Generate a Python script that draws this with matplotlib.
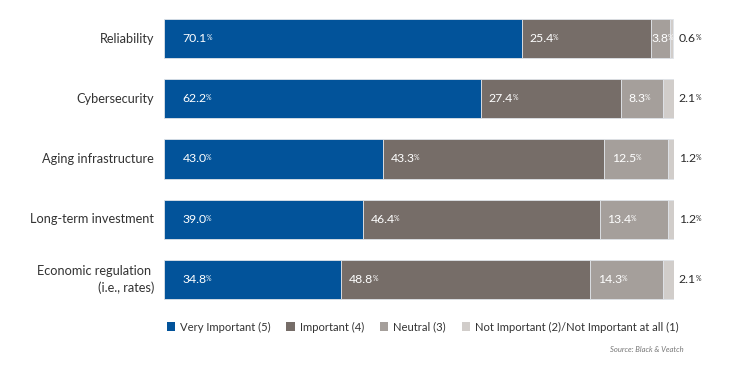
import matplotlib
matplotlib.use("Agg")
import matplotlib.pyplot as plt
from matplotlib.patches import Patch

plt.rcParams['font.family'] = ['Lato', 'DejaVu Sans']

categories = ["Reliability", "Cybersecurity", "Aging infrastructure",
              "Long-term investment", "Economic regulation \n(i.e., rates)"]
very_important = [70.1, 62.2, 43.0, 39.0, 34.8]
important = [25.4, 27.4, 43.3, 46.4, 48.8]
neutral = [3.8, 8.3, 12.5, 13.4, 14.3]
not_important = [0.6, 2.1, 1.2, 1.2, 2.1]
series_names = ["Very Important (5)", "Important (4)", "Neutral (3)",
                "Not Important (2)/Not Important at all (1)"]
series = [very_important, important, neutral, not_important]
colors = ["#02539A", "#766D68", "#A59F9B", "#D1CDCA"]

W, H = 749, 387
fig = plt.figure(figsize=(W / 100, H / 100), dpi=100)
ax = fig.add_axes([164 / W, 1 - 309.5 / H, 510 / W, 301 / H])

y = list(range(len(categories)))
left = [0.0] * len(categories)
for vals, col in zip(series, colors):
    ax.barh(y, vals, left=left, height=0.65, color=col,
            edgecolor="#dfe3e8", linewidth=0.6)
    left = [l + v for l, v in zip(left, vals)]

ax.set_xlim(0, 100)
ax.set_ylim(4.5, -0.5)
ax.axis("off")


def pct_label(x, yy, val, dx, color):
    t = ax.annotate(f"{val:.1f}", xy=(x, yy), xytext=(dx, 0),
                    textcoords="offset points", ha="left", va="center",
                    fontsize=8.8, color=color)
    ax.annotate("%", xy=(0.97, 0.92), xycoords=t, ha="left", va="top",
                fontsize=5, color=color)


for i in y:
    start = 0.0
    for k, vals in enumerate(series[:3]):
        v = vals[i]
        if k == 0:
            dx = 13.5
        elif v * 5.1 < 30:
            dx = 0.5
        else:
            dx = 5.5
        pct_label(start, i, v, dx, "white")
        start += v
    pct_label(100, i, not_important[i], 3.5, "#2b2b2b")
    ax.text(-10 / 5.1, i, categories[i], ha="right", va="center",
            fontsize=9.2, color="#333333", linespacing=1.35)

handles = [Patch(facecolor=c, edgecolor="none") for c in colors]
fig.legend(handles, series_names, loc="center left",
           bbox_to_anchor=(162 / W, 1 - 327 / H), ncol=4, frameon=False,
           fontsize=8.1, handlelength=0.75, handleheight=0.75,
           handletextpad=0.45, columnspacing=1.4, borderaxespad=0,
           labelcolor="#333333")

fig.text(684 / W, 1 - 350 / H, "Source: Black & Veatch", ha="right",
         va="center", fontsize=5.5, style="italic", color="#777777")

fig.savefig("out.png", dpi=100)
